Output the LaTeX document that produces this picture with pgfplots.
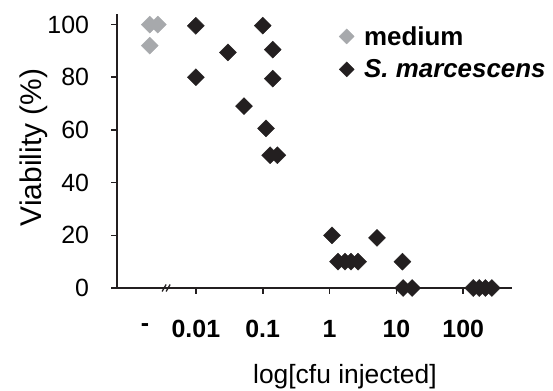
\documentclass[border=0pt]{standalone}
\usepackage{pgfplots}
\pgfplotsset{compat=1.18}
\usepackage{fontspec}
\setmainfont{Liberation Sans}
\definecolor{mgrey}{HTML}{A7A9AC}
\definecolor{dk}{HTML}{231F20}
\begin{document}
\begin{tikzpicture}
\path[use as bounding box] (0,0) rectangle (553bp,391bp);
\begin{axis}[
  at={(117bp,103bp)}, anchor=south west,
  scale only axis, width=395bp, height=274bp,
  xmin=-3.18, xmax=2.73, ymin=0, ymax=104,
  axis lines=left, axis line style={line width=2bp, color=dk, -},
  clip=false,
  tick align=outside, major tick length=5.5bp,
  tick style={line width=1.6bp, color=dk},
  xtick={-2,-1,0,1,2},
  xticklabels={0.01,0.1,1,10,100},
  extra x ticks={-2.76}, extra x tick labels={-},
  extra x tick style={major tick length=0pt},
  ytick={0,20,40,60,80,100},
  /pgf/number format/assume math mode=true,
  ticklabel style={font=\fontsize{25}{30}\selectfont},
  xticklabel style={font=\fontsize{25}{30}\selectfont\bfseries, anchor=base, yshift=-43.5bp},
  yticklabel style={xshift=-19bp},
  xlabel={log[cfu injected]},
  xlabel style={at={(rel axis cs:0.577,-0.347)}, anchor=base, font=\fontsize{26.5}{31}\selectfont},
  ylabel={Viability (\%)},
  ylabel style={at={(rel axis cs:-0.19,0.513)}, anchor=base, font=\fontsize{30}{36}\selectfont},
  legend style={at={(rel axis cs:0.562,0.963)}, anchor=north west, draw=none, fill=none,
    font=\fontsize{26}{31}\selectfont\bfseries, row sep=9bp, column sep=8bp, inner sep=0pt,
    cells={anchor=west}},
  legend image code/.code={\draw[#1,mark size=5.3bp] plot coordinates {(0bp,0bp)};},
]
\addplot[only marks, mark=square*, mark size=6bp, mark options={rotate=45, fill=mgrey, draw=mgrey}, color=mgrey]
coordinates {(-2.69,100) (-2.57,100) (-2.69,92)};
\addlegendentry{medium}
\addplot[only marks, mark=square*, mark size=6bp, mark options={rotate=45, fill=dk, draw=dk}, color=dk]
coordinates {
(-2,99.5) (-2,80) (-1.52,89.4) (-1.28,69) (-1.0,99.6) (-0.85,90.5) (-0.85,79.5)
(-0.95,60.6) (-0.89,50.4) (-0.78,50.4)
(0.037,20) (0.127,10) (0.232,10) (0.322,10) (0.427,10) (0.71,19) (1.09,10)
(1.10,0) (1.235,0) (2.15,0) (2.24,0) (2.33,0) (2.43,0)
};
\addlegendentry{\textit{S. marcescens}}
\draw[line width=1.3bp, dk] ([xshift=-5bp,yshift=-3.5bp]axis cs:-2.43,0) -- ([xshift=-1bp,yshift=3.5bp]axis cs:-2.43,0);
\draw[line width=1.3bp, dk] ([xshift=-1bp,yshift=-3.5bp]axis cs:-2.43,0) -- ([xshift=3bp,yshift=3.5bp]axis cs:-2.43,0);
\end{axis}
\end{tikzpicture}
\end{document}
